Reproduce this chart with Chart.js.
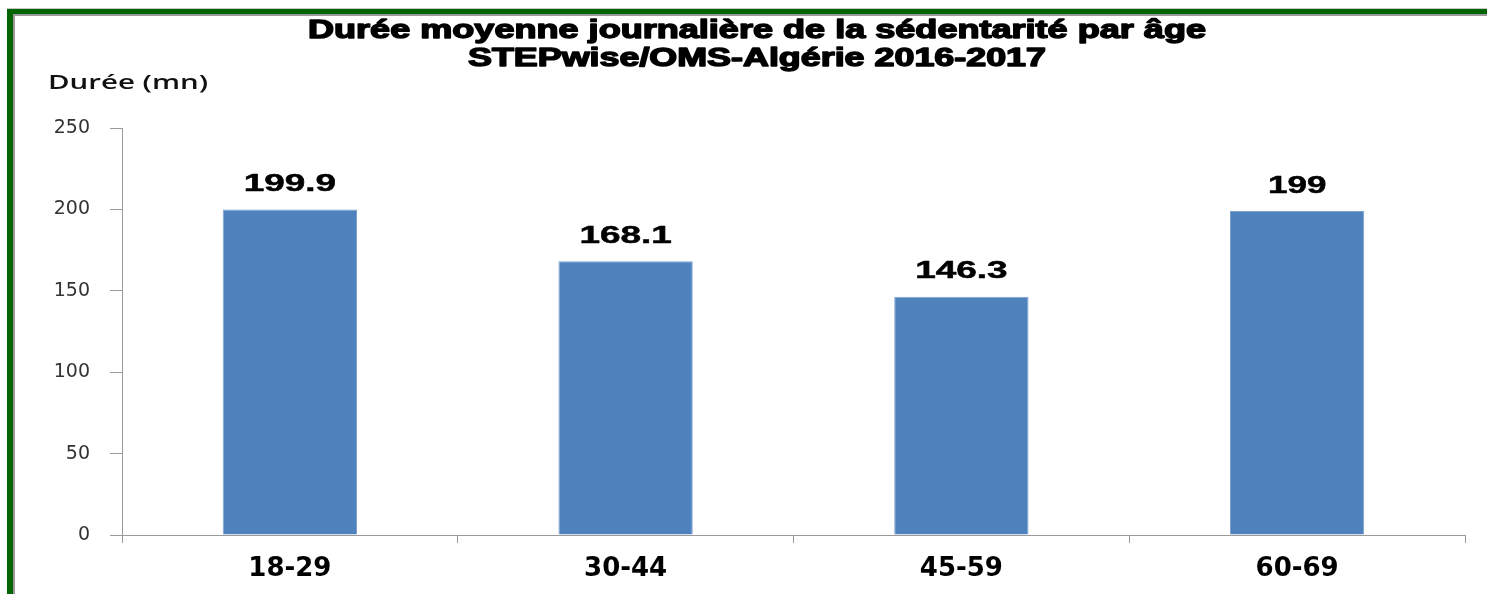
<!DOCTYPE html>
<html>
<head>
<meta charset="utf-8">
<script src="https://cdn.jsdelivr.net/npm/chart.js@4.4.1/dist/chart.umd.min.js"></script>
<style>
html,body{margin:0;padding:0;background:#fff;}
#wrap{position:relative;width:1487px;height:594px;}
</style>
</head>
<body>
<div id="wrap"><canvas id="c" width="1487" height="594"></canvas></div>
<script>
const categories = ['18-29', '30-44', '45-59', '60-69'];
const durations = [199.9, 168.1, 146.3, 199];
const valueLabels = ['199.9', '168.1', '146.3', '199'];
const yTicks = [0, 50, 100, 150, 200, 250];
const titleLines = ['Durée moyenne journalière de la sédentarité par âge', 'STEPwise/OMS-Algérie 2016-2017'];
const yAxisTitle = 'Durée (mn)';

function drawStretched(ctx, text, cx, y, font, targetWidth, color, baseline, stroke) {
  ctx.save();
  ctx.font = font;
  ctx.fillStyle = color;
  ctx.strokeStyle = color;
  ctx.textAlign = 'center';
  ctx.textBaseline = baseline || 'middle';
  const w = ctx.measureText(text).width;
  const s = targetWidth / w;
  ctx.translate(cx, y);
  ctx.scale(s, 1);
  ctx.fillText(text, 0, 0);
  if (stroke) {
    ctx.lineWidth = stroke;
    ctx.lineJoin = 'round';
    ctx.strokeText(text, 0, 0);
  }
  ctx.restore();
}

const decor = {
  id: 'decor',
  beforeDraw(chart) {
    const ctx = chart.ctx;
    ctx.save();
    ctx.fillStyle = '#ffffff';
    ctx.fillRect(0, 0, chart.width, chart.height);
    ctx.fillStyle = '#c8c8c8';
    ctx.fillRect(7, 8, chart.width - 7, 1);
    ctx.fillStyle = '#006400';
    ctx.fillRect(7, 9, chart.width - 7, 5);
    ctx.fillRect(7, 9, 6, chart.height - 9);
    ctx.fillStyle = '#9a9a9a';
    ctx.fillRect(13, 14, chart.width - 13, 2);
    ctx.fillRect(13, 14, 2, chart.height - 14);
    ctx.restore();
  },
  afterDraw(chart) {
    const ctx = chart.ctx;
    drawStretched(ctx, titleLines[0], 757, 38, 'bold 25px "Liberation Sans", Arial, sans-serif', 898, '#000', 'alphabetic', 1.4);
    drawStretched(ctx, titleLines[1], 757, 66, 'bold 25px "Liberation Sans", Arial, sans-serif', 578, '#000', 'alphabetic', 1.4);
    drawStretched(ctx, yAxisTitle, 128, 84, '600 19px "Open Sans", sans-serif', 160, '#111', 'middle', 0);
  },
  afterDatasetsDraw(chart) {
    const ctx = chart.ctx;
    const meta = chart.getDatasetMeta(0);
    meta.data.forEach((bar, i) => {
      const txt = valueLabels[i];
      const w = txt.length * 19.5 - (txt.includes('.') ? 5 : 0);
      drawStretched(ctx, txt, bar.x, bar.y - 25, 'bold 24px "Liberation Sans", Arial, sans-serif', w, '#000', 'middle', 0.5);
    });
  }
};

new Chart(document.getElementById('c'), {
  type: 'bar',
  data: {
    labels: categories,
    datasets: [{
      data: durations,
      backgroundColor: '#4F81BD',
      borderColor: '#7DA2D0',
      borderWidth: 1,
      categoryPercentage: 1,
      barPercentage: 0.4
    }]
  },
  options: {
    responsive: false,
    animation: false,
    events: [],
    layout: { padding: { top: 128, right: 22, left: 0, bottom: 0 } },
    plugins: { legend: { display: false }, title: { display: false }, tooltip: { enabled: false } },
    scales: {
      x: {
        offset: true,
        grid: { display: true, drawOnChartArea: false, drawTicks: true, tickLength: 8, color: '#9a9a9a', offset: true },
        border: { display: true, color: '#9a9a9a', width: 1 },
        ticks: { color: '#000', font: { family: '"DejaVu Sans", sans-serif', size: 26, weight: 'bold' }, padding: 11, maxRotation: 0 },
        afterFit(scale) { scale.height = 59; }
      },
      y: {
        min: 0, max: 250,
        afterBuildTicks(scale) { scale.ticks = yTicks.map(v => ({ value: v })); },
        grid: { display: true, drawOnChartArea: false, drawTicks: true, tickLength: 12, color: '#9a9a9a' },
        border: { display: true, color: '#9a9a9a', width: 1 },
        ticks: { color: '#333', font: { family: '"DejaVu Sans", sans-serif', size: 19 }, padding: 20 },
        afterFit(scale) { scale.width = 122; }
      }
    }
  },
  plugins: [decor]
});
</script>
</body>
</html>
